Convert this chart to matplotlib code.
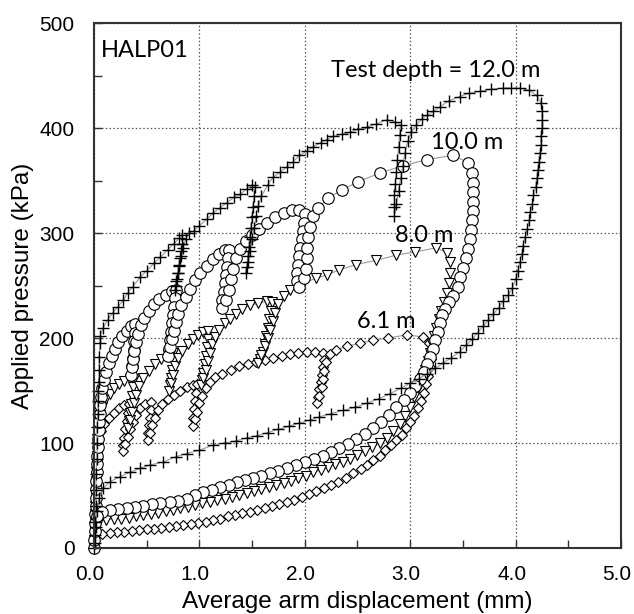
import numpy as np
import matplotlib
matplotlib.use('Agg')
import matplotlib.pyplot as plt
import matplotlib.transforms as mtransforms
from matplotlib.ticker import MultipleLocator, FormatStrFormatter

# (displacement mm, pressure kPa), one list per test depth
d12 = [(0.00, 0), (0.01, 12), (0.01, 25), (0.02, 40), (0.02, 55), (0.02, 70), (0.03, 85), (0.03, 100),
       (0.03, 115), (0.04, 128), (0.04, 140), (0.04, 150), (0.05, 158), (0.05, 170), (0.05, 182),
       (0.06, 195), (0.06, 202), (0.09, 210), (0.13, 217), (0.18, 224), (0.23, 230), (0.28, 236),
       (0.32, 243), (0.37, 249), (0.44, 258), (0.50, 264), (0.57, 271), (0.63, 277), (0.70, 284),
       (0.76, 290), (0.81, 295), (0.84, 298),
       (0.84, 290), (0.83, 283), (0.82, 276), (0.81, 269), (0.80, 262), (0.79, 256), (0.78, 250), (0.77, 246),
       (0.78, 254), (0.80, 262), (0.81, 270), (0.83, 278), (0.85, 286), (0.87, 294), (0.90, 300),
       (0.95, 302), (1.00, 307), (1.07, 313), (1.13, 319), (1.20, 324), (1.26, 329), (1.33, 334),
       (1.39, 337), (1.45, 342), (1.50, 346), (1.53, 344),
       (1.52, 335), (1.51, 325), (1.50, 315), (1.49, 305), (1.48, 296), (1.47, 287), (1.46, 278),
       (1.45, 268), (1.44, 262),
       (1.46, 272), (1.48, 283), (1.50, 294), (1.52, 305), (1.54, 316), (1.56, 326), (1.59, 335),
       (1.65, 346), (1.70, 353), (1.77, 358), (1.83, 363), (1.89, 368), (1.95, 374), (2.02, 378),
       (2.08, 382), (2.15, 386), (2.21, 389), (2.27, 392), (2.35, 394), (2.43, 396), (2.51, 399),
       (2.59, 401), (2.68, 404), (2.78, 408), (2.86, 406), (2.91, 403),
       (2.90, 393), (2.89, 382), (2.88, 370), (2.87, 358), (2.86, 347), (2.85, 336), (2.85, 325), (2.85, 316),
       (2.87, 328), (2.89, 340), (2.91, 352), (2.93, 364), (2.95, 376), (2.98, 388), (3.01, 396),
       (3.06, 403), (3.11, 409), (3.16, 412), (3.22, 416), (3.28, 420), (3.37, 426), (3.47, 430),
       (3.56, 433), (3.66, 435), (3.77, 437), (3.88, 438), (3.96, 438), (4.04, 438), (4.13, 436),
       (4.20, 431), (4.24, 424),
       (4.25, 416), (4.25, 408), (4.25, 400), (4.24, 392), (4.24, 384), (4.23, 376), (4.22, 368),
       (4.21, 360), (4.20, 352), (4.19, 344), (4.17, 336), (4.16, 328), (4.14, 320), (4.13, 312),
       (4.11, 304), (4.09, 296), (4.07, 288), (4.06, 280), (4.04, 272), (4.02, 264), (4.00, 256),
       (3.97, 248), (3.93, 241), (3.88, 235), (3.84, 229), (3.79, 223), (3.74, 217), (3.69, 211),
       (3.64, 205), (3.59, 199), (3.53, 193), (3.47, 187), (3.39, 181), (3.31, 176), (3.24, 171),
       (3.16, 166), (3.08, 161), (3.00, 157), (2.91, 152), (2.81, 147), (2.70, 142), (2.59, 138),
       (2.48, 134), (2.36, 131), (2.25, 128), (2.14, 125), (2.05, 122), (1.95, 119), (1.85, 116),
       (1.75, 113), (1.65, 110), (1.55, 107), (1.45, 105), (1.35, 102), (1.24, 100), (1.13, 98),
       (1.00, 93), (0.88, 90), (0.78, 87), (0.66, 82), (0.53, 79), (0.44, 76), (0.34, 72), (0.25, 68),
       (0.15, 63), (0.09, 57), (0.05, 48), (0.03, 35), (0.02, 20), (0.01, 5)]

d10 = [(0.00, 0), (0.00, 8), (0.01, 16), (0.01, 24), (0.01, 32), (0.02, 40), (0.02, 48), (0.02, 56),
       (0.02, 64), (0.03, 72), (0.03, 80), (0.03, 88), (0.04, 96), (0.04, 104), (0.05, 112), (0.05, 120),
       (0.06, 128), (0.06, 136), (0.07, 144), (0.08, 152), (0.10, 160), (0.12, 168), (0.14, 176),
       (0.17, 183), (0.20, 190), (0.23, 196), (0.27, 202), (0.31, 207), (0.35, 211), (0.39, 213),
       (0.39, 205), (0.38, 197), (0.38, 189), (0.37, 181), (0.36, 173), (0.35, 165),
       (0.36, 172), (0.37, 180), (0.38, 188), (0.40, 196), (0.42, 204), (0.45, 212), (0.48, 219),
       (0.52, 226), (0.57, 232), (0.62, 237), (0.68, 241), (0.74, 245), (0.78, 246),
       (0.77, 238), (0.76, 230), (0.75, 222), (0.74, 214), (0.73, 206), (0.72, 198), (0.71, 190), (0.70, 183),
       (0.72, 191), (0.74, 199), (0.76, 207), (0.78, 215), (0.80, 223), (0.83, 231), (0.87, 239),
       (0.91, 247), (0.96, 255), (1.01, 262), (1.07, 269), (1.13, 275), (1.19, 280), (1.24, 284), (1.28, 284),
       (1.27, 276), (1.26, 268), (1.25, 260), (1.24, 252), (1.23, 244), (1.22, 236), (1.22, 229),
       (1.25, 236), (1.28, 246), (1.30, 256), (1.32, 266), (1.35, 276), (1.39, 285), (1.44, 292),
       (1.50, 298), (1.57, 304), (1.64, 310), (1.72, 315), (1.80, 319), (1.88, 322), (1.95, 322), (2.00, 318),
       (1.99, 310), (1.98, 302), (1.97, 294), (1.96, 286), (1.95, 278), (1.94, 270), (1.93, 262),
       (1.93, 254), (1.95, 249),
       (1.99, 257), (2.01, 266), (2.02, 276), (2.02, 286), (2.03, 296), (2.05, 306), (2.08, 316),
       (2.13, 324), (2.22, 333), (2.35, 341), (2.51, 349), (2.71, 357), (2.93, 364), (3.16, 370),
       (3.41, 374), (3.55, 367),
       (3.59, 357), (3.60, 348), (3.60, 339), (3.60, 330), (3.60, 321), (3.59, 312), (3.58, 303),
       (3.57, 294), (3.55, 285), (3.53, 276), (3.50, 267), (3.47, 258), (3.45, 249), (3.41, 240),
       (3.37, 234), (3.33, 228), (3.30, 222), (3.28, 214), (3.26, 206), (3.24, 198), (3.22, 190),
       (3.19, 182), (3.16, 175), (3.13, 168), (3.09, 161), (3.05, 154), (3.00, 148), (2.94, 141),
       (2.87, 134), (2.80, 127), (2.72, 120), (2.65, 114), (2.57, 109), (2.49, 104), (2.41, 99),
       (2.33, 95), (2.25, 91), (2.17, 88), (2.09, 85), (2.00, 82), (1.92, 79), (1.83, 76), (1.75, 73),
       (1.67, 71), (1.59, 69), (1.51, 67), (1.43, 65), (1.36, 63), (1.28, 60), (1.20, 58), (1.12, 55),
       (1.04, 53), (0.96, 50), (0.88, 47), (0.80, 45), (0.72, 44), (0.63, 43), (0.55, 42), (0.47, 40),
       (0.39, 39), (0.31, 38), (0.23, 37), (0.15, 36), (0.08, 34), (0.03, 30)]

d8 = [(0.00, 0), (0.00, 8), (0.01, 16), (0.01, 24), (0.01, 32), (0.01, 40), (0.02, 48), (0.02, 56),
      (0.02, 64), (0.02, 72), (0.03, 80), (0.03, 88), (0.03, 96), (0.03, 104), (0.04, 112), (0.04, 119),
      (0.06, 127), (0.08, 134), (0.11, 141), (0.15, 147), (0.19, 152), (0.24, 156), (0.29, 159),
      (0.34, 161), (0.38, 161),
      (0.37, 153), (0.36, 145), (0.35, 137), (0.34, 129), (0.33, 121), (0.32, 114),
      (0.34, 122), (0.36, 130), (0.38, 138), (0.40, 146), (0.43, 154), (0.47, 162), (0.52, 169),
      (0.58, 175), (0.64, 180), (0.70, 184), (0.75, 186),
      (0.75, 178), (0.74, 170), (0.73, 162), (0.72, 155), (0.71, 150),
      (0.73, 157), (0.75, 165), (0.77, 173), (0.80, 181), (0.84, 188), (0.89, 194), (0.94, 199),
      (0.99, 203), (1.04, 206), (1.08, 207),
      (1.08, 199), (1.07, 191), (1.06, 183), (1.05, 175), (1.04, 167), (1.03, 160), (1.02, 155),
      (1.04, 162), (1.06, 170), (1.08, 178), (1.10, 186), (1.12, 194), (1.15, 201), (1.19, 208),
      (1.24, 214), (1.29, 218), (1.35, 223), (1.41, 228), (1.48, 231), (1.56, 233), (1.64, 235), (1.69, 234),
      (1.68, 226), (1.66, 218), (1.65, 210), (1.63, 202), (1.62, 194), (1.60, 187), (1.58, 180), (1.56, 176),
      (1.59, 184), (1.62, 192), (1.65, 200), (1.67, 208), (1.70, 216), (1.72, 224), (1.75, 232),
      (1.80, 240), (1.86, 246), (1.98, 252), (2.11, 257), (2.21, 260), (2.33, 265), (2.49, 270),
      (2.68, 274), (2.87, 279), (3.05, 282), (3.25, 286), (3.35, 281),
      (3.38, 272), (3.38, 262), (3.37, 252), (3.35, 243), (3.32, 234), (3.29, 226), (3.27, 218),
      (3.25, 210), (3.23, 202), (3.21, 194), (3.19, 186), (3.17, 178), (3.14, 170), (3.11, 162),
      (3.08, 154), (3.04, 144), (3.00, 134), (2.95, 126), (2.90, 118), (2.84, 111), (2.78, 105),
      (2.71, 100), (2.64, 96), (2.57, 92), (2.50, 89), (2.43, 85), (2.36, 82), (2.29, 80), (2.22, 77),
      (2.15, 74), (2.08, 72), (2.01, 69), (1.94, 67), (1.87, 64), (1.80, 62), (1.73, 60), (1.66, 58),
      (1.59, 56), (1.52, 54), (1.45, 52), (1.38, 50), (1.31, 49), (1.24, 47), (1.17, 46), (1.10, 44),
      (1.03, 43), (0.96, 41), (0.89, 39), (0.82, 38), (0.75, 36), (0.68, 35), (0.61, 33), (0.54, 32),
      (0.47, 31), (0.40, 30), (0.33, 29), (0.26, 28), (0.19, 28), (0.12, 27), (0.05, 26)]

d6 = [(0.00, 0), (0.00, 8), (0.01, 16), (0.01, 24), (0.01, 32), (0.01, 40), (0.02, 48), (0.02, 56),
      (0.02, 64), (0.02, 72), (0.03, 80), (0.03, 88), (0.04, 96), (0.05, 104), (0.07, 111), (0.10, 118),
      (0.14, 124), (0.19, 129), (0.24, 133), (0.29, 136), (0.33, 137),
      (0.32, 129), (0.31, 121), (0.30, 113), (0.29, 105), (0.28, 98), (0.28, 92),
      (0.30, 99), (0.32, 106), (0.34, 113), (0.37, 120), (0.40, 127), (0.44, 133), (0.49, 137), (0.54, 139),
      (0.54, 131), (0.53, 124), (0.52, 117), (0.51, 110), (0.51, 103),
      (0.53, 110), (0.55, 117), (0.58, 124), (0.61, 131), (0.65, 137), (0.70, 142), (0.76, 146),
      (0.82, 150), (0.88, 153), (0.94, 155), (0.98, 156),
      (0.97, 148), (0.96, 140), (0.95, 132), (0.94, 124), (0.94, 116),
      (0.96, 123), (0.98, 130), (1.00, 138), (1.03, 145), (1.06, 152), (1.10, 158), (1.15, 163),
      (1.22, 166), (1.30, 170), (1.38, 173), (1.46, 175), (1.54, 177), (1.62, 179), (1.70, 181),
      (1.78, 183), (1.86, 185), (1.94, 186), (2.02, 187), (2.10, 187), (2.17, 186),
      (2.18, 179), (2.17, 172), (2.16, 165), (2.15, 158), (2.14, 151), (2.13, 144), (2.12, 138),
      (2.14, 145), (2.16, 153), (2.17, 161), (2.18, 169), (2.20, 177), (2.24, 185), (2.30, 189),
      (2.40, 192), (2.52, 195), (2.65, 198), (2.79, 200), (2.97, 203), (3.12, 201),
      (3.18, 195), (3.20, 188), (3.20, 180), (3.19, 172), (3.17, 164), (3.15, 156), (3.13, 148),
      (3.10, 140), (3.07, 133), (3.04, 126), (3.00, 120), (2.96, 114), (2.92, 108), (2.87, 103),
      (2.82, 98), (2.76, 93), (2.71, 88), (2.65, 84), (2.59, 79), (2.53, 75), (2.46, 71), (2.39, 67),
      (2.32, 63), (2.25, 60), (2.18, 57), (2.11, 54), (2.04, 51), (1.97, 49), (1.90, 46), (1.83, 44),
      (1.76, 42), (1.69, 40), (1.62, 38), (1.55, 36), (1.48, 34), (1.41, 33), (1.34, 31), (1.27, 30),
      (1.20, 28), (1.13, 27), (1.06, 25), (0.99, 24), (0.92, 23), (0.85, 22), (0.78, 21), (0.71, 20),
      (0.64, 19), (0.57, 18), (0.50, 18), (0.43, 17), (0.36, 16), (0.29, 15), (0.22, 15), (0.15, 14),
      (0.08, 13)]

labels = ['6.1 m', '8.0 m', '10.0 m', 'Test depth = 12.0 m']
label_pos = [(2.50, 216), (2.86, 298), (3.20, 386), (2.25, 455)]

plt.rcParams['font.family'] = ['Liberation Sans', 'DejaVu Sans']

fig = plt.figure(figsize=(6.34, 6.14), dpi=100)
ax = fig.add_axes([0.148, 0.1075, 0.8315, 0.855])

line_kw = dict(color='#9a9a9a', lw=0.8, clip_on=False)
styles = [
    dict(marker='D', ms=5.6, mfc='white', mec='black', mew=0.8),
    dict(marker='v', ms=7.4, mfc='white', mec='black', mew=0.8),
    dict(marker='o', ms=8.3, mfc='white', mec='black', mew=0.8),
    dict(marker='+', ms=9.0, mec='black', mew=1.0),
]

for data, st in zip([d6, d8, d10, d12], styles):
    xs, ys = np.array(data).T
    ax.plot(xs, ys, **line_kw, **st)

ax.set_xlim(0, 5)
ax.set_ylim(0, 500)
ax.xaxis.set_major_locator(MultipleLocator(1.0))
ax.xaxis.set_minor_locator(MultipleLocator(0.5))
ax.yaxis.set_major_locator(MultipleLocator(100))
ax.yaxis.set_minor_locator(MultipleLocator(50))
ax.xaxis.set_major_formatter(FormatStrFormatter('%.1f'))
ax.tick_params(which='both', direction='in', length=6, width=1, color='#333333',
               labelsize=15, top=False, right=False)
ax.tick_params(axis='x', pad=12)
ax.tick_params(axis='y', pad=14)
ax.grid(True, which='major', color='#555555', lw=0.9, ls=(0, (1.2, 1.8)))
ax.set_axisbelow(True)
for sp in ax.spines.values():
    sp.set_color('#333333')
    sp.set_linewidth(1.5)

# x tick labels sit a few pixels left of their ticks in the reference
shift = mtransforms.ScaledTranslation(-4 / 100, 0, fig.dpi_scale_trans)
for tl in ax.get_xticklabels():
    tl.set_transform(tl.get_transform() + shift)

ax.set_xlabel('Average arm displacement (mm)', fontsize=17.5, labelpad=5)
ax.set_ylabel('Applied pressure (kPa)', fontsize=17.5, labelpad=4)

ax.text(0.07, 474, 'HALP01', fontsize=17, family=['Lato', 'DejaVu Sans'], va='center')
for lab, (lx, ly) in zip(labels, label_pos):
    ax.text(lx, ly, lab, fontsize=17, family=['Lato', 'DejaVu Sans'], va='center')

fig.savefig('out.png', dpi=100)
